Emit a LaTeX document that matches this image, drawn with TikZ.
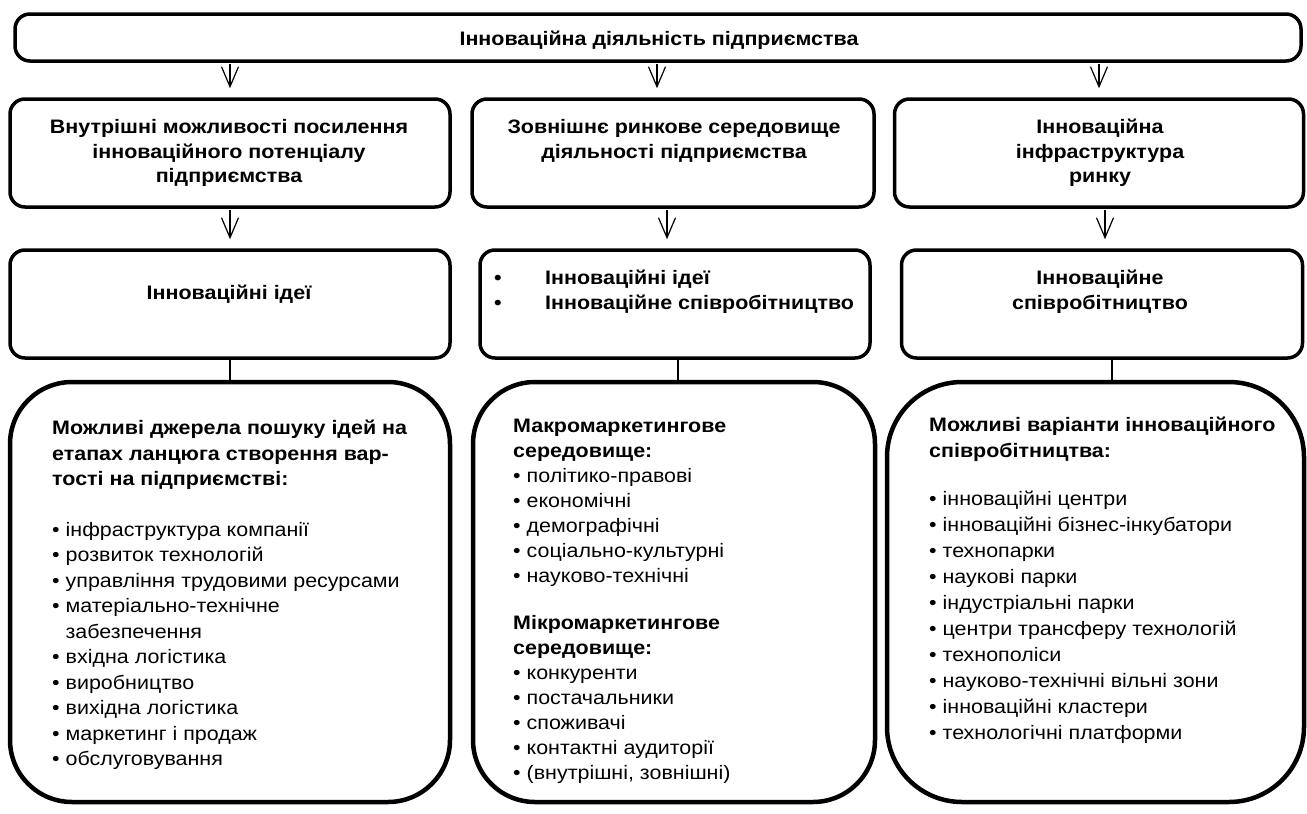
\documentclass[tikz,border=0pt]{standalone}
\usepackage{fontspec}
\setmainfont{Liberation Sans}[FakeStretch=1.1]
\usetikzlibrary{arrows.meta,%
                calc}

\begin{document}
\begin{tikzpicture}[x=1pt,y=-1pt]
		\tikzstyle{Box}=[draw,line width=3.5pt,rounded corners=15pt,inner sep=0pt]
		\tikzstyle{BigBox}=[draw,line width=4.5pt,rounded corners=62pt,inner sep=0pt]
		\tikzstyle{Head}=[font=\fontsize{19.5}{24.5}\selectfont\bfseries,align=center,inner sep=0pt]
		\tikzstyle{List}=[font=\fontsize{19.5}{25.5}\selectfont,align=left,inner sep=0pt,anchor=north west]
		\tikzstyle{Arr}=[line width=1.2pt,-{Straight Barb[length=20pt,width=17pt]},shorten <=1.5pt,shorten >=9pt]
		\tikzstyle{Link}=[line width=1.2pt]
		\useasboundingbox (0,0) rectangle (1307,814);
		% top
		\node[Box,minimum width=1286pt,minimum height=47pt] (top) at (658,37.5) {};
		\node[Head] (topT) at (659,40) {Інноваційна діяльність підприємства};
		% second row
		\node[Box,minimum width=440pt,minimum height=108pt] (in) at (230,153) {};
		\node[Box,minimum width=402pt,minimum height=108pt] (out) at (673,153) {};
		\node[Box,minimum width=409pt,minimum height=108pt] (infra) at (1099,153) {};
		\node[Head] (inT) at (229,153) {Внутрішні можливості посилення\\інноваційного потенціалу\\підприємства};
		\node[Head] (outT) at (674,141) {Зовнішнє ринкове середовище\\діяльності підприємства};
		\node[Head] (infraT) at (1100,153) {Інноваційна\\інфраструктура\\ринку};
		% third row
		\node[Box,minimum width=440pt,minimum height=108pt] (idea) at (230,304) {};
		\node[Box,minimum width=390pt,minimum height=108pt] (both) at (675,304) {};
		\node[Box,minimum width=401pt,minimum height=108pt] (coop) at (1102,304) {};
		\node[Head] (ideaT) at (229,294) {Інноваційні ідеї};
		\node[Head,align=left,anchor=west] (bothT) at (494,292)
			{\makebox[51pt][l]{•}Інноваційні ідеї\\\makebox[51pt][l]{•}Інноваційне співробітництво};
		\node[Head] (coopT) at (1100,292) {Інноваційне\\співробітництво};
		% fourth row
		\node[BigBox,minimum width=440pt,minimum height=420pt] (src) at (230,592) {};
		\node[BigBox,minimum width=402pt,minimum height=420pt] (env) at (674,592) {};
		\node[BigBox,rounded corners=75pt,minimum width=417pt,minimum height=420pt] (var) at (1095.5,592) {};
		\node[List] (srcT) at (52,420) {\textbf{Можливі джерела пошуку ідей на}\\
			\textbf{етапах ланцюга створення вар-}\\
			\textbf{тості на підприємстві:}\\[25pt]
			• інфраструктура компанії\\
			• розвиток технологій\\
			• управління трудовими ресурсами\\
			• матеріально-технічне\\
			\phantom{• }забезпечення\\
			• вхідна логістика\\
			• виробництво\\
			• вихідна логістика\\
			• маркетинг і продаж\\
			• обслуговування};
		\node[List,font=\fontsize{19.5}{25}\selectfont] (envT) at (513,419) {\textbf{Макромаркетингове}\\
			\textbf{середовище:}\\
			• політико-правові\\
			• економічні\\
			• демографічні\\
			• соціально-культурні\\
			• науково-технічні\\[22pt]
			\textbf{Мікромаркетингове}\\
			\textbf{середовище:}\\
			• конкуренти\\
			• постачальники\\
			• споживачі\\
			• контактні аудиторії\\
			• (внутрішні, зовнішні)};
		\node[List,font=\fontsize{19.5}{26}\selectfont] (varT) at (929,417) {\textbf{Можливі варіанти інноваційного}\\
			\textbf{співробітництва:}\\[22pt]
			• інноваційні центри\\
			• інноваційні бізнес-інкубатори\\
			• технопарки\\
			• наукові парки\\
			• індустріальні парки\\
			• центри трансферу технологій\\
			• технополіси\\
			• науково-технічні вільні зони\\
			• інноваційні кластери\\
			• технологічні платформи};
		% arrows
		\draw[Arr] (top.south -| in.north) -- (in.north);
		\draw[Arr] (top.south -| 657,0) -- (out.north -| 657,0);
		\draw[Arr] (top.south -| infra.north) -- (infra.north);
		\draw[Arr] (in.south) -- (idea.north -| in.south);
		\draw[Arr] (out.south -| 667,0) -- (both.north -| 667,0);
		\draw[Arr] (infra.south -| 1105,0) -- (coop.north -| 1105,0);
		\draw[Link] (idea.south -| src.north) -- (src.north);
		\draw[Link] (both.south -| 678,0) -- (env.north -| 678,0);
		\draw[Link] (coop.south -| 1112,0) -- (var.north -| 1112,0);
	\end{tikzpicture}
\end{document}
